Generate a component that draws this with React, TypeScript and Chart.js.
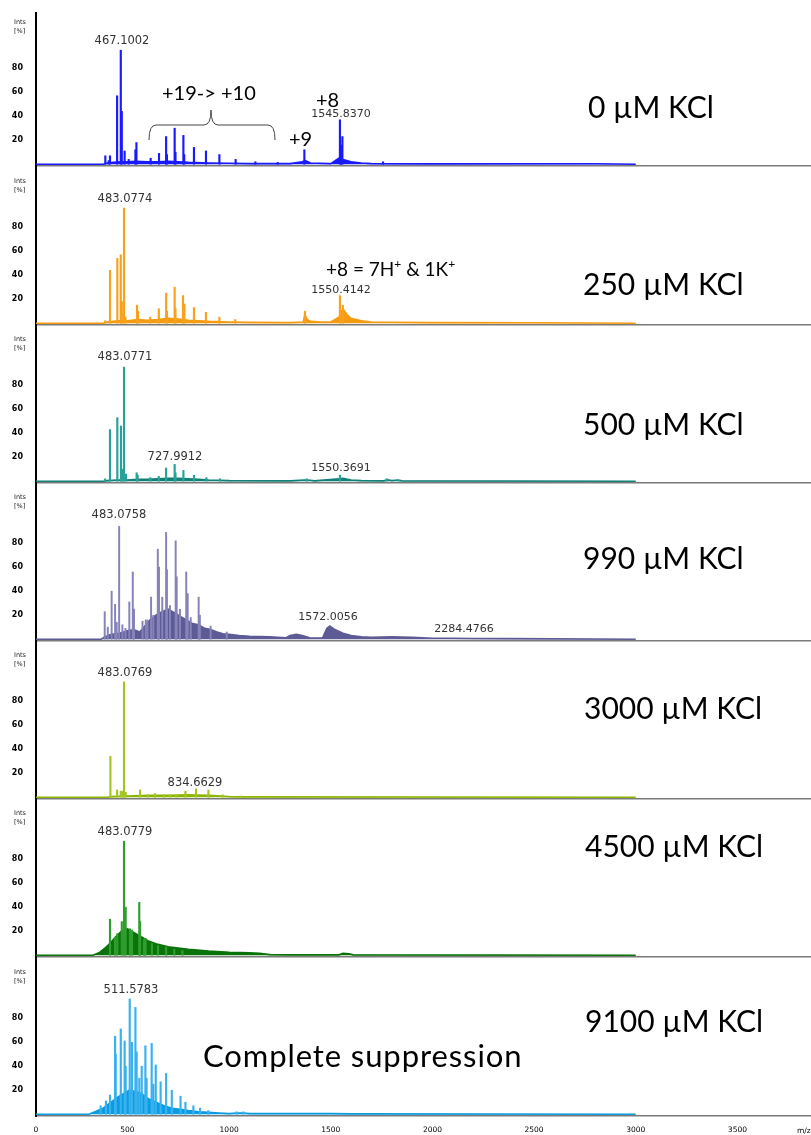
import React, { useEffect, useRef } from "react";
import { Chart, registerables } from "chart.js";

Chart.register(...registerables);

// ---------- axis values ----------
const X_MIN = 50;
const X_MAX = 3862;
const Y_MIN = -1.5;
const PX_PER_PCT = 1.2;
const xTickValues = [0, 500, 1000, 1500, 2000, 2500, 3000, 3500];
const yTickValues = [20, 40, 60, 80];

const concentrations = [
  "0 µM KCl",
  "250 µM KCl",
  "500 µM KCl",
  "990 µM KCl",
  "3000 µM KCl",
  "4500 µM KCl",
  "9100 µM KCl",
];

// ---------- 0 µM ----------
const mz0 = [391, 408, 414, 449, 467, 472, 486, 506, 539, 544, 614, 655, 690, 694, 732, 736, 775, 779, 827, 886, 952, 1032, 1129, 1239, 1370, 1545, 1551, 1557, 1757];
const int0 = [7, 3, 7, 57, 95, 44, 11, 4, 12, 18, 5, 9, 23, 8, 30, 10, 24, 8, 14, 11, 8, 4, 2, 1.5, 12, 37, 16, 23, 2];
const envMz0 = [50, 380, 400, 430, 470, 500, 540, 600, 650, 700, 750, 800, 900, 1000, 1100, 1300, 1360, 1375, 1400, 1500, 1540, 1560, 1600, 1650, 1700, 2000, 2800, 3000];
const envInt0 = [0, 0, 1, 1.5, 2, 2, 2.5, 2, 2, 2.5, 2, 1.5, 1, 0.8, 0.5, 0.5, 2, 3, 1, 0.5, 5, 4, 2, 1, 0.5, 0.3, 0.4, 0];

// ---------- 250 µM ----------
const mz1 = [390, 414, 450, 467, 472, 483, 490, 547, 552, 612, 654, 690, 694, 732, 736, 773, 780, 827, 886, 952, 1030, 1373, 1545, 1559];
const int1 = [2, 44, 54, 57, 18, 96, 5, 15, 10, 5, 12, 25, 10, 30, 12, 23, 16, 13, 9, 5, 3, 10, 23, 15];
const envMz1 = [50, 380, 400, 450, 500, 550, 600, 650, 700, 750, 800, 850, 900, 1000, 1100, 1300, 1365, 1372, 1385, 1400, 1450, 1500, 1540, 1560, 1580, 1600, 1650, 1700, 1800, 2000, 2500, 3000];
const envInt1 = [0, 0, 1, 2, 2, 3, 2.5, 3, 4, 3.5, 2.5, 2, 1.5, 1, 0.7, 0.5, 1, 7, 3, 1.5, 1, 1, 5, 12, 7, 4, 2, 1, 0.8, 0.5, 0.4, 0];

// ---------- 500 µM ----------
const mz2 = [390, 414, 450, 468, 473, 483, 493, 545, 550, 612, 654, 690, 732, 736, 775, 827, 888, 955, 1382, 1545, 1775, 1832];
const int2 = [2, 43, 53, 46, 10, 95, 6, 7, 5, 3, 4, 11, 14, 7, 9, 5, 3, 2, 2, 5, 2, 1];
const envMz2 = [50, 380, 400, 450, 500, 550, 600, 650, 700, 750, 800, 850, 900, 1000, 1300, 1370, 1400, 1420, 1540, 1560, 1600, 1650, 1760, 1780, 1800, 1830, 1850, 3000];
const envInt2 = [0, 0, 0.5, 1, 1, 1.5, 1.5, 2, 2.5, 2.5, 2, 1.5, 1, 0.5, 0.3, 1, 0.8, 0.3, 2, 2.5, 1, 0.5, 0.3, 1.2, 0.5, 1, 0.3, 0];

// ---------- 990 µM ----------
const mz3 = [388, 403, 422, 439, 447, 459, 475, 490, 509, 526, 532, 574, 590, 598, 616, 627, 649, 655, 671, 690, 694, 709, 737, 742, 758, 789, 796, 811, 850, 856, 909, 988];
const int3 = [23, 10, 40, 29, 14, 94, 12, 9, 31, 56, 25, 15, 16, 16, 35, 20, 75, 60, 35, 89, 58, 28, 82, 52, 25, 56, 38, 18, 35, 20, 11, 6];
const envMz3 = [50, 370, 390, 420, 460, 500, 530, 560, 580, 610, 640, 670, 700, 730, 760, 790, 820, 850, 880, 910, 940, 970, 1000, 1050, 1100, 1200, 1280, 1300, 1330, 1360, 1400, 1460, 1480, 1495, 1520, 1560, 1600, 1650, 1700, 1800, 1900, 2000, 2100, 2200, 2380, 3000];
const envInt3 = [0, 0, 2, 4, 5, 7, 8, 6, 10, 16, 20, 23, 25, 22, 19, 16, 13, 12, 9, 8, 6, 4.5, 4, 3, 2.5, 2, 1.2, 3, 4, 3, 1, 1.2, 9, 11, 8, 5, 3, 2, 1.5, 2, 1.5, 0.8, 0.8, 0.6, 0.5, 0];

// ---------- 3000 µM ----------
const mz4 = [416, 449, 467, 477, 483, 491, 562, 600, 635, 680, 709, 740, 785, 837, 898, 968, 1057];
const int4 = [34, 6, 5, 5, 96, 4, 6, 2, 3, 2, 2, 2, 5, 7, 6, 2, 1];
const envMz4 = [50, 400, 420, 500, 600, 700, 800, 900, 1000, 1060, 3000];
const envInt4 = [0, 0, 0.5, 1, 1.5, 1.5, 2, 1.5, 0.5, 0.3, 0];

// ---------- 4500 µM ----------
const mz5 = [414, 439, 450, 472, 483, 491, 512, 522, 558, 562, 581, 589, 620, 650, 690, 730, 770];
const int5 = [30, 15, 18, 28, 95, 40, 22, 21, 44, 28, 13, 14, 10, 8, 7, 5, 4];
const envMz5 = [50, 330, 360, 390, 420, 440, 470, 500, 520, 560, 600, 650, 700, 800, 900, 1000, 1100, 1150, 1200, 1300, 1540, 1560, 1590, 1610, 3000];
const envInt5 = [0, 0, 2, 6, 11, 15, 20, 22, 20, 16, 12, 9, 7, 5, 3.5, 2.5, 2, 1.5, 0.5, 0.3, 0.3, 1.5, 1.2, 0.3, 0];

// ---------- 9100 µM ----------
const mz6 = [368, 394, 414, 439, 442, 467, 486, 491, 511, 522, 539, 545, 558, 570, 588, 594, 619, 627, 639, 663, 690, 718, 761, 785, 824, 857, 898, 1037, 1070];
const int6 = [7, 11, 16, 65, 50, 71, 61, 40, 96, 60, 89, 52, 30, 40, 57, 30, 59, 25, 41, 27, 34, 20, 15, 10, 7, 5, 3, 2, 2];
const envMz6 = [50, 310, 340, 380, 420, 450, 480, 510, 540, 570, 600, 640, 680, 720, 760, 800, 850, 900, 950, 1000, 1040, 1070, 1100, 1500, 1600, 3000];
const envInt6 = [0, 0, 2, 5, 10, 14, 17, 20, 19, 17, 13, 10, 7, 5, 4, 3, 2, 1.5, 1, 0.5, 1, 1, 0.5, 0.5, 0.3, 0];

const peakMz = [mz0, mz1, mz2, mz3, mz4, mz5, mz6];
const peakInt = [int0, int1, int2, int3, int4, int5, int6];
const envMz = [envMz0, envMz1, envMz2, envMz3, envMz4, envMz5, envMz6];
const envInt = [envInt0, envInt1, envInt2, envInt3, envInt4, envInt5, envInt6];

// ---------- styling / layout ----------
const stickColors = ["#1a1aff", "#f9a11b", "#2aa198", "#8683b8", "#a2c523", "#2f9e2f", "#39b1ef"];
const fillColors = ["#1a1aff", "#f59b10", "#138078", "#5d5b96", "#8db600", "#0a730a", "#0a9be0"];
const stickWidths = [1.5, 1.5, 1.5, 1.3, 1.5, 1.5, 1.5];
const baselines = [166, 325, 483, 641, 799, 957, 1116];
const firstTop = 12;
const W = 811;
const H = 1135;

function SpectrumPanel({ idx }: { idx: number }) {
  const ref = useRef<HTMLCanvasElement | null>(null);
  const last = idx === baselines.length - 1;
  const top = idx === 0 ? firstTop : baselines[idx - 1];
  const areaH = baselines[idx] - top;
  const xAxisH = last ? H - baselines[idx] : 0;
  const padBottom = last ? 0 : 1;
  const canvasH = areaH + xAxisH + padBottom;

  useEffect(() => {
    if (!ref.current) return;
    const chart = new Chart(ref.current, {
      type: "bar",
      data: {
        datasets: [
          {
            type: "bar",
            data: peakMz[idx].map((x, i) => ({ x, y: peakInt[idx][i] })),
            backgroundColor: stickColors[idx],
            borderWidth: 0,
            barThickness: stickWidths[idx],
            order: 1,
          } as any,
          {
            type: "line",
            data: envMz[idx].map((x, i) => ({ x, y: envInt[idx][i] })),
            borderColor: fillColors[idx],
            backgroundColor: fillColors[idx],
            borderWidth: 1.6,
            pointRadius: 0,
            tension: 0,
            fill: "origin",
            order: 2,
          } as any,
        ],
      },
      options: {
        responsive: false,
        maintainAspectRatio: false,
        animation: false,
        events: [],
        layout: { padding: { left: 0, right: 0, top: 0, bottom: padBottom } },
        plugins: { legend: { display: false }, tooltip: { enabled: false } },
        scales: {
          x: {
            type: "linear",
            min: X_MIN,
            max: X_MAX,
            offset: false,
            grid: { display: false, drawTicks: false },
            border: { display: true, color: "#7a7a7a", width: 1.5 },
            ticks: {
              display: last,
              autoSkip: false,
              maxRotation: 0,
              padding: 10,
              color: "#000",
              font: { family: "DejaVu Sans", size: 7.5 },
              callback: (_v: any, i: number) => String(xTickValues[i]),
            },
            afterBuildTicks: (s: any) => {
              s.ticks = xTickValues.map((v) => ({ value: Math.max(v, X_MIN) }));
            },
            afterFit: (s: any) => {
              s.height = xAxisH;
              s.paddingLeft = 0;
              s.paddingRight = 0;
            },
          },
          y: {
            type: "linear",
            min: Y_MIN,
            max: Y_MIN + areaH / PX_PER_PCT,
            grid: { display: false, drawTicks: false },
            border: { display: true, color: "#000", width: 2 },
            ticks: {
              padding: 13,
              color: "#000",
              font: { family: "DejaVu Sans", size: 8, weight: "bold" },
            },
            afterBuildTicks: (s: any) => {
              s.ticks = yTickValues.map((v) => ({ value: v }));
            },
            afterFit: (s: any) => {
              s.width = 36;
              s.paddingTop = 0;
              s.paddingBottom = 0;
            },
          },
        },
      } as any,
    });
    return () => chart.destroy();
  }, [idx]);

  return (
    <canvas
      ref={ref}
      width={W}
      height={canvasH}
      style={{ position: "absolute", left: 0, top, width: W, height: canvasH }}
    />
  );
}

type Ann = { text: React.ReactNode; x: number; y: number; size: number; font: string; center?: boolean; spacing?: number };

const peakFont = "'DejaVu Sans', Verdana, sans-serif";
const bigFont = "Lato, 'Open Sans', sans-serif";

const peakLabels: Ann[] = [
  { text: "467.1002", x: 122, y: 41, size: 11.5, font: peakFont, center: true },
  { text: "1545.8370", x: 341, y: 113, size: 11, font: peakFont, center: true },
  { text: "483.0774", x: 125, y: 199, size: 11.5, font: peakFont, center: true },
  { text: "1550.4142", x: 341, y: 289, size: 11, font: peakFont, center: true },
  { text: "483.0771", x: 125, y: 357, size: 11.5, font: peakFont, center: true },
  { text: "727.9912", x: 175, y: 457, size: 11.5, font: peakFont, center: true },
  { text: "1550.3691", x: 341, y: 467, size: 11, font: peakFont, center: true },
  { text: "483.0758", x: 119, y: 515, size: 11.5, font: peakFont, center: true },
  { text: "1572.0056", x: 328, y: 616, size: 11, font: peakFont, center: true },
  { text: "2284.4766", x: 464, y: 628, size: 11, font: peakFont, center: true },
  { text: "483.0769", x: 125, y: 673, size: 11.5, font: peakFont, center: true },
  { text: "834.6629", x: 195, y: 783, size: 11.5, font: peakFont, center: true },
  { text: "483.0779", x: 125, y: 832, size: 11.5, font: peakFont, center: true },
  { text: "511.5783", x: 131, y: 990, size: 11.5, font: peakFont, center: true },
];

const concLabelPos = [
  [588, 106],
  [583, 283],
  [583, 423],
  [583, 557],
  [584, 707],
  [585, 845],
  [585, 1020],
];

const sup = (s: string) => (
  <span style={{ fontSize: 12, position: "relative", top: -8 }}>{s}</span>
);

const notes: Ann[] = [
  { text: "+19-> +10", x: 162, y: 92, size: 20, font: bigFont },
  { text: "+8", x: 316, y: 99, size: 20, font: bigFont },
  { text: "+9", x: 289, y: 138, size: 20, font: bigFont },
  {
    text: (
      <>
        +8 = 7H{sup("+")} &amp; 1K{sup("+")}
      </>
    ),
    x: 326,
    y: 268,
    size: 19,
    font: bigFont,
  },
  { text: "Complete suppression", x: 203, y: 1055, size: 31, font: bigFont, spacing: 0.9 },
  ...concentrations.map((c, i) => ({
    text: c,
    x: concLabelPos[i][0],
    y: concLabelPos[i][1],
    size: 30,
    font: bigFont,
  })),
];

function Label({ a }: { a: Ann }) {
  return (
    <div
      style={{
        position: "absolute",
        left: a.x,
        top: a.y,
        transform: a.center ? "translate(-50%, -50%)" : "translate(0, -50%)",
        fontFamily: a.font,
        fontSize: a.size,
        letterSpacing: a.spacing || 0,
        lineHeight: 1,
        color: a.font === peakFont ? "#333" : "#000",
        whiteSpace: "nowrap",
      }}
    >
      {a.text}
    </div>
  );
}

export default function App() {
  const small = { fontFamily: "'DejaVu Sans', sans-serif", fontSize: 6.5, color: "#222", lineHeight: 1 };
  return (
    <div
      style={{
        position: "absolute",
        left: 0,
        top: 0,
        width: W,
        height: H,
        overflow: "hidden",
        background: "#fff",
      }}
    >
      {baselines.map((_, i) => (
        <SpectrumPanel key={i} idx={i} />
      ))}
      {baselines.map((b, i) => (
        <React.Fragment key={"ints" + i}>
          <div style={{ ...small, position: "absolute", left: 14, top: b - 147 }}>Ints</div>
          <div style={{ ...small, position: "absolute", left: 14, top: b - 138 }}>[%]</div>
        </React.Fragment>
      ))}
      {peakLabels.map((a, i) => (
        <Label key={"p" + i} a={a} />
      ))}
      {notes.map((a, i) => (
        <Label key={"n" + i} a={a} />
      ))}
      <div
        style={{
          position: "absolute",
          left: 797,
          top: 1126,
          fontFamily: "'DejaVu Sans', sans-serif",
          fontSize: 7.5,
          color: "#000",
          whiteSpace: "nowrap",
        }}
      >
        m/z
      </div>
      <svg width={W} height={H} style={{ position: "absolute", left: 0, top: 0, pointerEvents: "none" }}>
        <path
          d="M149,140 Q149,125 156,125 L204,125 Q211,125 211,110 Q211,125 218,125 L268,125 Q275,125 275,140"
          fill="none"
          stroke="#444"
          strokeWidth={1}
        />
      </svg>
    </div>
  );
}
